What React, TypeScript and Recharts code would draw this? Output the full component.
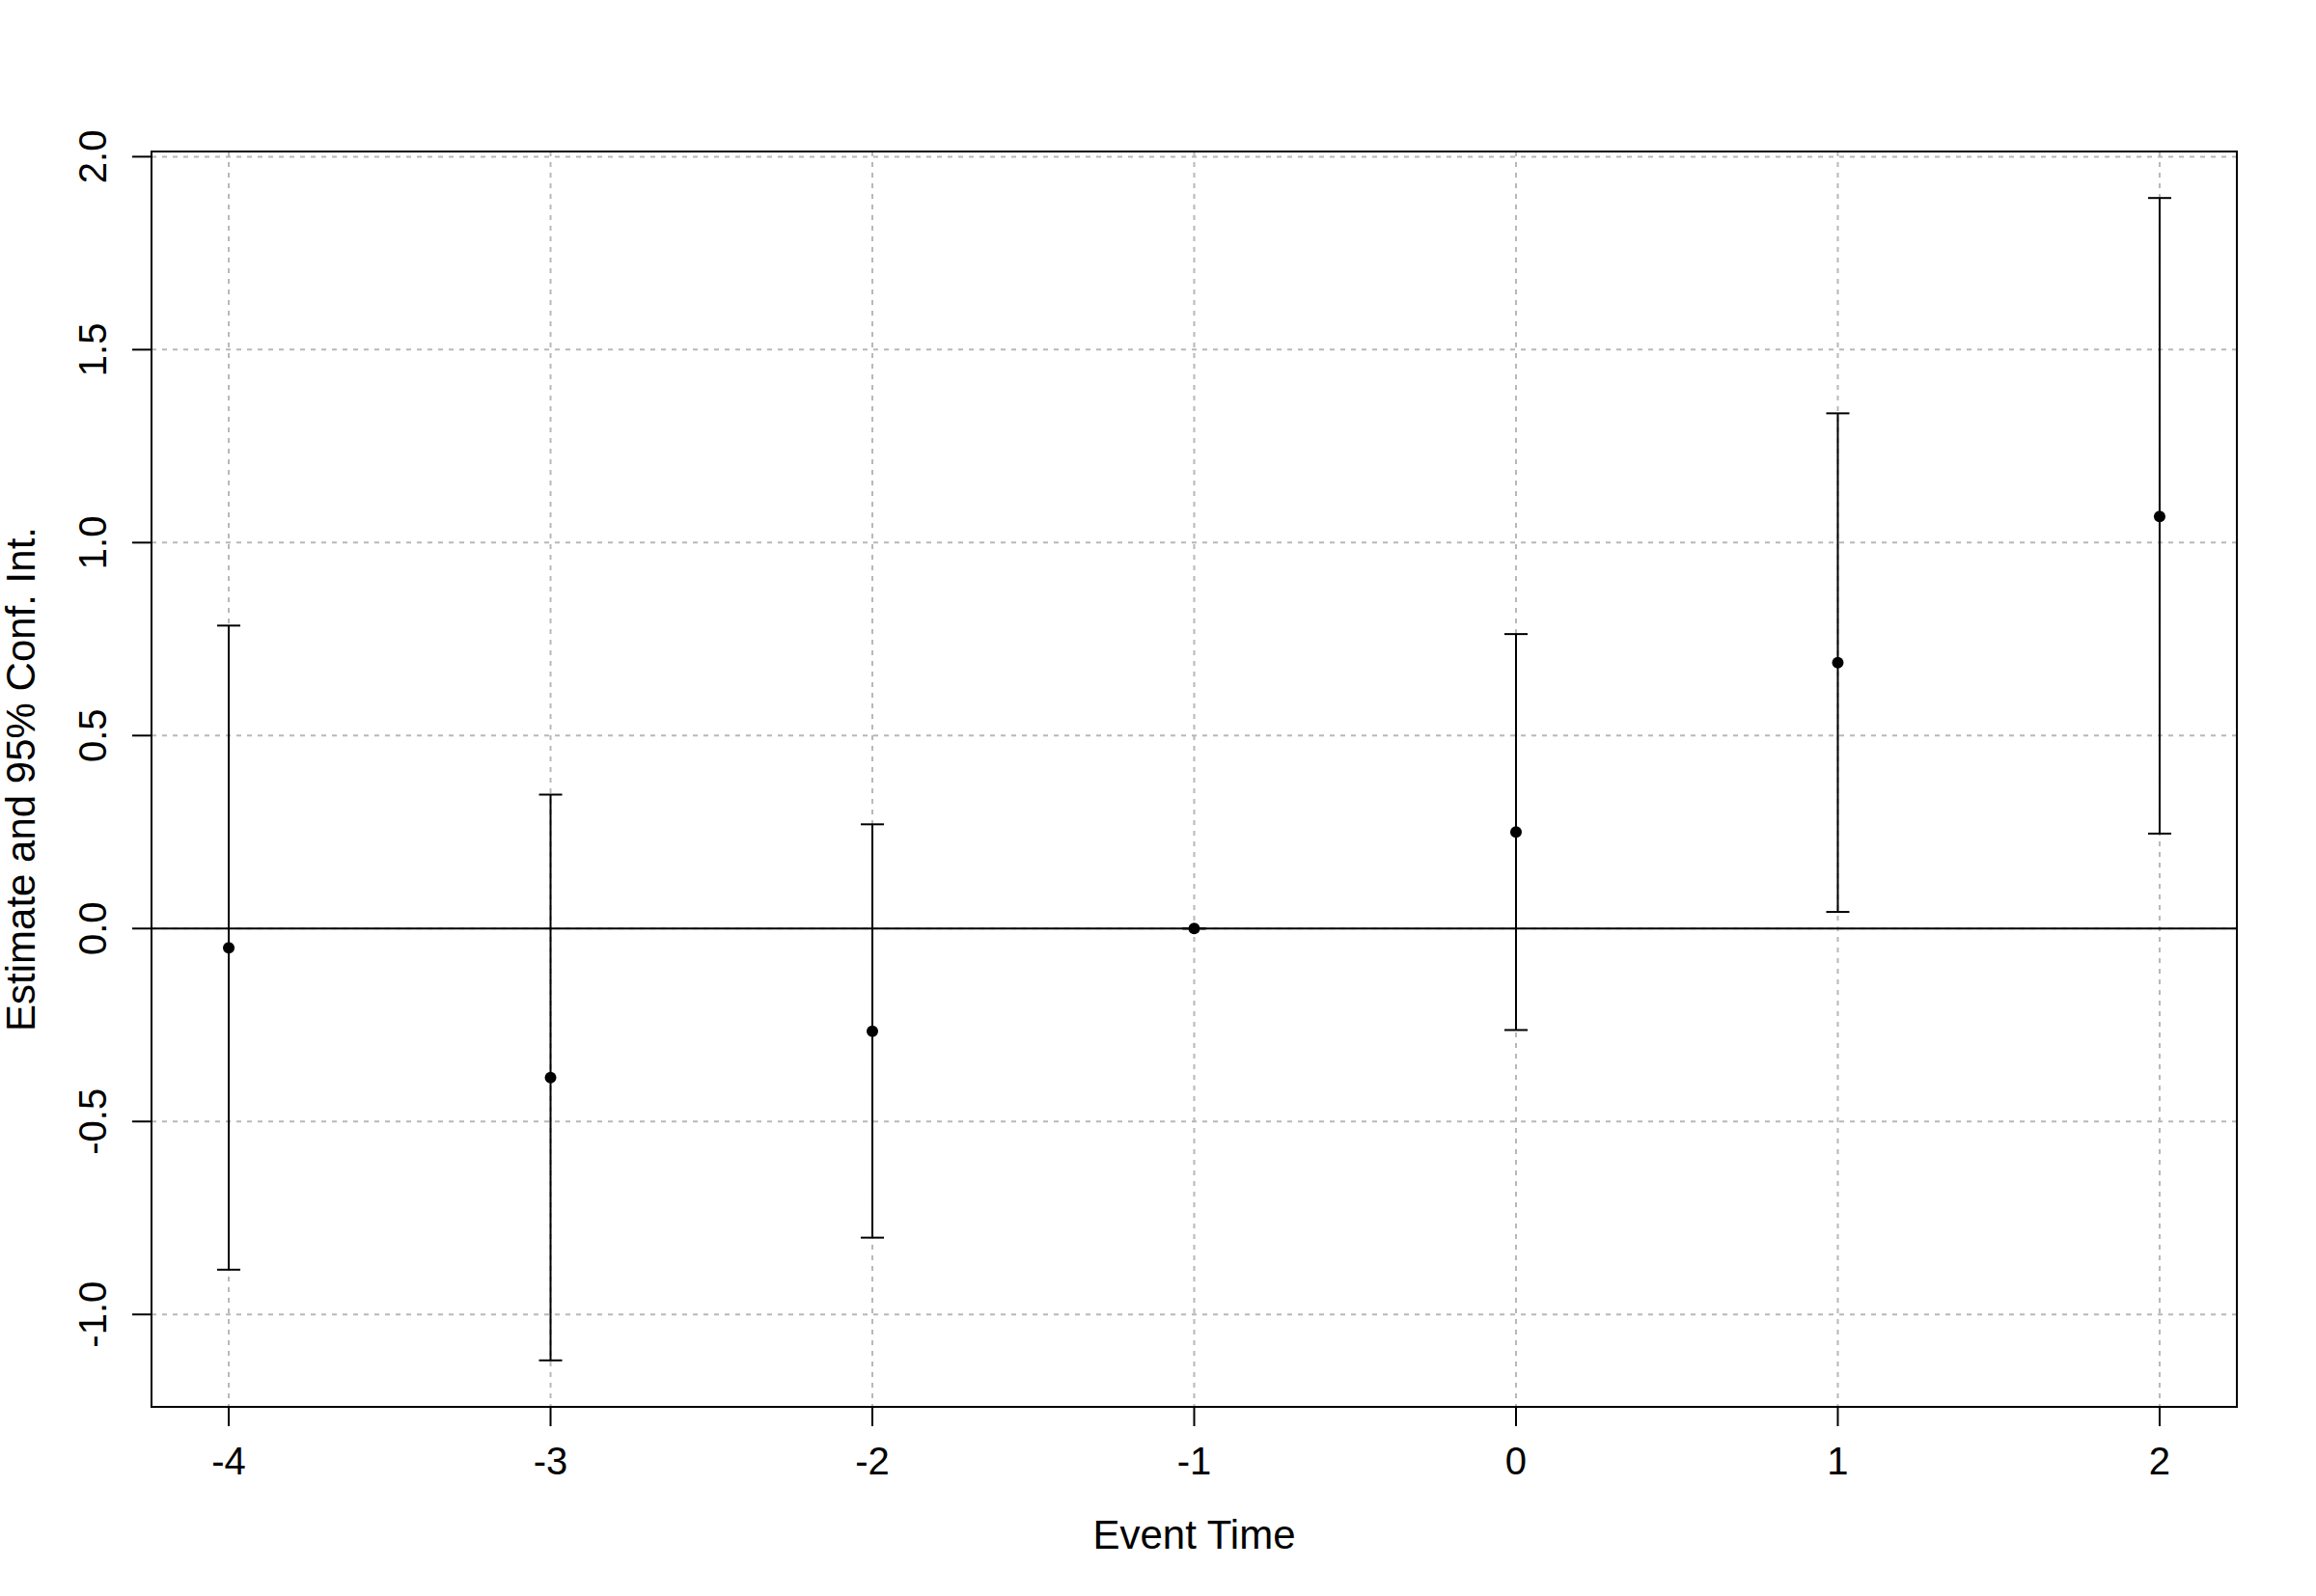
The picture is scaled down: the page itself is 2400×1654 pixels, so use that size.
import React from "react";
import {
  ScatterChart,
  Scatter,
  XAxis,
  YAxis,
  CartesianGrid,
  ErrorBar,
  ReferenceLine,
  ReferenceArea,
  Label
} from "recharts";

const FONT = "'Liberation Sans', Arial, Helvetica, sans-serif";

// event-study estimates with 95% CI
const eventTimes = [-4, -3, -2, -1, 0, 1, 2];
const estimates = [-0.05, -0.386, -0.266, 0, 0.25, 0.689, 1.068];
const lowerCI = [-0.884, -1.119, -0.801, 0, -0.263, 0.043, 0.246];
const upperCI = [0.785, 0.347, 0.27, 0, 0.763, 1.335, 1.893];

const xTicks = [-4, -3, -2, -1, 0, 1, 2];
const yTicks = [-1, -0.5, 0, 0.5, 1, 1.5, 2];

const data = eventTimes.map((t, i) => ({
  t,
  est: estimates[i],
  err: [estimates[i] - lowerCI[i], upperCI[i] - estimates[i]]
}));

// base R pads each axis range by 4%
const pad = (lo: number, hi: number) => {
  const r = hi - lo;
  return [lo - 0.04 * r, hi + 0.04 * r];
};
const xDomain = pad(Math.min(...eventTimes), Math.max(...eventTimes));
const yDomain = pad(Math.min(...lowerCI), Math.max(...upperCI));

const W = 2400;
const H = 1654;
const TOP = 157;
const LEFT = 157;
const RIGHT = 82;
const BOTTOM = 196;

function YTick(props: any) {
  const { x, y, payload } = props;
  return (
    <text
      x={x}
      y={y}
      transform={`rotate(-90 ${x} ${y})`}
      textAnchor="middle"
      fontSize={40}
      fontFamily={FONT}
      fill="#000"
    >
      {Number(payload.value).toFixed(1)}
    </text>
  );
}

function Dot(props: any) {
  return <circle cx={props.cx} cy={props.cy} r={6} fill="#000" />;
}

export default function App() {
  const midY = TOP + (H - TOP - BOTTOM) / 2;
  const midX = LEFT + (W - LEFT - RIGHT) / 2;
  return (
    <div style={{ position: "absolute", left: 0, top: 0, background: "#fff" }}>
      <ScatterChart
        width={W}
        height={H}
        margin={{ top: TOP, right: RIGHT, bottom: 0, left: 0 }}
      >
        <CartesianGrid
          stroke="#b8b8b8"
          strokeWidth={2}
          strokeDasharray="5 6"
        />
        <XAxis
          type="number"
          dataKey="t"
          domain={xDomain}
          allowDataOverflow
          ticks={xTicks}
          height={BOTTOM}
          axisLine={false}
          tickSize={20}
          tickMargin={22}
          tickLine={{ stroke: "#000", strokeWidth: 2 }}
          tick={{ fill: "#000", fontSize: 40, fontFamily: FONT }}
          interval={0}
        >
          <Label
            content={() => (
              <text
                x={midX}
                y={1605}
                textAnchor="middle"
                fontSize={42}
                fontFamily={FONT}
                fill="#000"
              >
                Event Time
              </text>
            )}
          />
        </XAxis>
        <YAxis
          type="number"
          dataKey="est"
          domain={yDomain}
          allowDataOverflow
          ticks={yTicks}
          width={LEFT}
          axisLine={false}
          tickSize={20}
          tickMargin={27}
          tickLine={{ stroke: "#000", strokeWidth: 2 }}
          tick={<YTick />}
          interval={0}
        >
          <Label
            content={() => (
              <text
                x={36}
                y={midY}
                transform={`rotate(-90 36 ${midY})`}
                textAnchor="middle"
                fontSize={42}
                fontFamily={FONT}
                fill="#000"
              >
                Estimate and 95% Conf. Int.
              </text>
            )}
          />
        </YAxis>
        <ReferenceLine y={0} stroke="#000" strokeWidth={2} />
        <ReferenceArea
          x1={xDomain[0]}
          x2={xDomain[1]}
          y1={yDomain[0]}
          y2={yDomain[1]}
          fill="none"
          fillOpacity={0}
          stroke="#000"
          strokeWidth={2}
        />
        <Scatter data={data} shape={<Dot />} isAnimationActive={false}>
          <ErrorBar
            dataKey="err"
            direction="y"
            width={12}
            stroke="#000"
            strokeWidth={2}
            isAnimationActive={false}
          />
        </Scatter>
      </ScatterChart>
    </div>
  );
}
